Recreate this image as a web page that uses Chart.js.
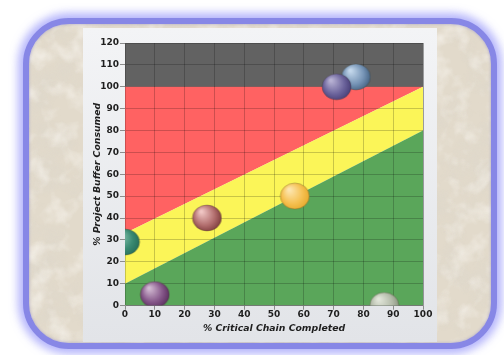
<!DOCTYPE html>
<html>
<head>
<meta charset="utf-8">
<script src="https://cdn.jsdelivr.net/npm/chart.js@4/dist/chart.umd.min.js"></script>
<style>
  html, body { margin: 0; padding: 0; background: #ffffff; }
  body { width: 504px; height: 355px; position: relative; overflow: hidden; }
  .frame {
    position: absolute; left: 23px; top: 18px; width: 474px; height: 331px;
    box-sizing: border-box; border: 6px solid #8787e6; border-radius: 46px;
    background-color: #e2dacb;
    box-shadow: 0 0 9px 5px rgba(150,150,250,0.7), inset 0 0 3px rgba(90,90,200,0.4);
    overflow: hidden;
  }
  .panel {
    position: absolute; left: 83px; top: 28px; width: 354px; height: 314px;
    background: linear-gradient(#f3f4f6, #e2e4e8);
  }
  canvas { display: block; }
</style>
</head>
<body>
<div class="frame" id="frame"></div>
<div class="panel"><canvas id="fever" width="354" height="314"></canvas></div>
<script>
// Project positions: % of critical chain completed vs % of buffer consumed
const completed = [0, 10, 27.5, 57, 87, 77.5, 71];
const consumed  = [29, 5, 40, 50, 0, 104.5, 100];

// Zone boundary lines, evaluated at the two ends of the x range
const zoneX      = [0, 100];
const greenTop   = [10, 80];
const yellowTop  = [33, 100];
const redTop     = [100, 100];
const grayTop    = [120, 120];

// Ball shading per project: highlight, body, shadow
const ballShades = [
  ['#8cc6b2', '#3a8a72', '#1e6450'],
  ['#d2bad2', '#86588a', '#4a1e4e'],
  ['#f0c6c4', '#b26e6e', '#682828'],
  ['#fde6b0', '#f6c152', '#e2a01c'],
  ['#e2e6da', '#b4bcaa', '#7c8672'],
  ['#c4d8ec', '#7694b6', '#304e6e'],
  ['#b8b2d4', '#6c649c', '#382f68']
];

// Sandstone texture inside the rounded frame
const stone = "<svg xmlns='http://www.w3.org/2000/svg' width='474' height='331'>" +
  "<filter id='n'><feTurbulence type='fractalNoise' baseFrequency='0.03' numOctaves='4' seed='7'/>" +
  "<feColorMatrix values='0 0 0 0 0.72  0 0 0 0 0.68  0 0 0 0 0.60  2.2 0 0 0 -0.95'/></filter>" +
  "<filter id='m'><feTurbulence type='fractalNoise' baseFrequency='0.05' numOctaves='3' seed='2'/>" +
  "<feColorMatrix values='0 0 0 0 0.97  0 0 0 0 0.95  0 0 0 0 0.91  2.2 0 0 0 -1.0'/></filter>" +
  "<rect width='100%' height='100%' fill='#e2dacb'/>" +
  "<rect width='100%' height='100%' filter='url(#n)' opacity='0.7'/>" +
  "<rect width='100%' height='100%' filter='url(#m)' opacity='0.6'/></svg>";
document.getElementById('frame').style.backgroundImage =
  'url("data:image/svg+xml,' + encodeURIComponent(stone) + '")';

function makeBall(shade) {
  const w = 29, h = 26;
  const c = document.createElement('canvas');
  c.width = w + 2; c.height = h + 2;
  const g = c.getContext('2d');
  const cx = c.width / 2, cy = c.height / 2;
  const grad = g.createRadialGradient(cx - w * 0.2, cy - h * 0.25, 1, cx, cy, w * 0.62);
  grad.addColorStop(0, shade[0]);
  grad.addColorStop(0.55, shade[1]);
  grad.addColorStop(1, shade[2]);
  g.beginPath();
  g.ellipse(cx, cy, w / 2, h / 2, 0, 0, Math.PI * 2);
  g.fillStyle = grad;
  g.fill();
  g.lineWidth = 0.8;
  g.strokeStyle = 'rgba(60,50,30,0.35)';
  g.stroke();
  return c;
}
const ballImages = ballShades.map(makeBall);

function edge(values) {
  return zoneX.map((x, i) => ({ x: x, y: values[i] }));
}
function zone(values, color, fill) {
  return {
    type: 'line', data: edge(values), backgroundColor: color, borderWidth: 0,
    pointRadius: 0, fill: fill, tension: 0, clip: 0
  };
}

// Redraw the grid on top of the colored zones, underneath the project balls
const gridOverZones = {
  id: 'gridOverZones',
  afterDatasetDraw(chart, args) {
    if (args.index === 1) {
      chart.scales.x.drawGrid(chart.chartArea);
      chart.scales.y.drawGrid(chart.chartArea);
    }
  }
};

const tickFont = { family: 'DejaVu Sans', size: 9, weight: 'bold' };
const titleFont = { family: 'DejaVu Sans', size: 9.3, weight: 'bold', style: 'italic' };

new Chart(document.getElementById('fever'), {
  type: 'bubble',
  data: {
    datasets: [
      {
        label: 'Projects',
        data: completed.map((x, i) => ({ x: x, y: consumed[i] })),
        radius: 14,
        pointStyle: ctx => ballImages[ctx.dataIndex],
        backgroundColor: 'rgba(0,0,0,0)',
        borderWidth: 0,
        clip: 0
      },
      zone(greenTop, 'rgb(90,166,90)', 'start'),
      zone(yellowTop, 'rgb(251,245,88)', '-1'),
      zone(redTop, 'rgb(255,98,98)', '-1'),
      zone(grayTop, 'rgb(98,98,98)', '-1')
    ]
  },
  options: {
    responsive: false,
    animation: false,
    events: [],
    layout: { padding: { left: 0, right: 13, top: 15, bottom: 0 } },
    plugins: { legend: { display: false }, tooltip: { enabled: false } },
    scales: {
      x: {
        type: 'linear', min: 0, max: 100,
        ticks: { stepSize: 10, font: tickFont, color: '#1e1e1e', padding: 0, maxRotation: 0 },
        grid: { color: 'rgba(0,0,0,0.2)', lineWidth: 1, tickLength: 4, tickColor: '#8c8c8c' },
        border: { display: true, color: '#999999', width: 1 },
        title: { display: true, text: '% Critical Chain Completed', font: titleFont, color: '#1e1e1e', padding: { top: 0, bottom: 8 } },
        afterFit(scale) { scale.height = 36.5; }
      },
      y: {
        type: 'linear', min: 0, max: 120,
        ticks: { stepSize: 10, font: tickFont, color: '#1e1e1e', padding: 1 },
        grid: { color: 'rgba(0,0,0,0.2)', lineWidth: 1, tickLength: 5, tickColor: '#8c8c8c' },
        border: { display: true, color: '#999999', width: 1 },
        title: { display: true, text: '% Project Buffer Consumed', font: titleFont, color: '#1e1e1e', padding: { top: 9, bottom: 0 } },
        afterFit(scale) { scale.width = 42; }
      }
    }
  },
  plugins: [gridOverZones]
});
</script>
</body>
</html>
